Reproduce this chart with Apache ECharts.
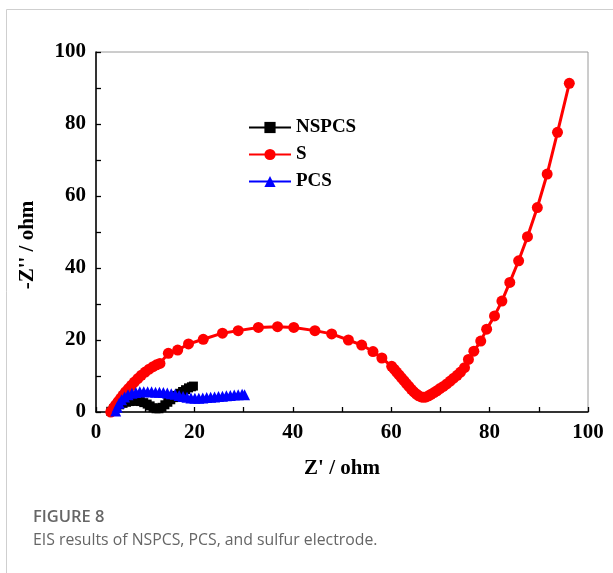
<!DOCTYPE html>
<html>
<head>
<meta charset="utf-8">
<script src="https://cdn.jsdelivr.net/npm/echarts@6/dist/echarts.min.js"></script>
<style>
html,body{margin:0;padding:0;background:#fff;}
#c{width:613px;height:573px;}
</style>
</head>
<body>
<div id="c"></div>
<script>
// ---- data (Z' , -Z'') in ohm ----
const nspcsX = [3.0,3.6,4.2,4.8,5.5,6.2,6.9,7.6,8.3,9.0,9.7,10.4,11.0,11.6,12.2,12.8,13.4,14.0,14.6,15.2,15.8,16.4,17.0,17.6,18.2,18.8,19.4,19.8];
const nspcsY = [0.2,0.9,1.5,2.0,2.4,2.7,2.9,3.0,3.0,2.9,2.6,2.2,1.7,1.2,0.9,0.9,1.3,2.0,2.7,3.4,4.0,4.6,5.2,5.7,6.2,6.7,7.0,7.2];

const sX = [3.0,3.2,3.6,4.0,4.5,5.0,5.5,6.0,6.6,7.2,7.8,8.5,9.2,10.0,10.8,11.6,12.3,13.0,14.7,16.6,18.8,21.8,25.7,28.9,33.0,36.9,40.2,44.5,47.9,51.3,54.0,56.3,58.1,60.1,60.6,61.1,61.6,62.1,62.6,63.1,63.6,64.1,64.6,65.1,65.6,66.1,66.6,67.1,67.6,68.1,68.7,69.3,69.9,70.6,71.3,72.0,72.7,73.4,74.1,74.9,75.7,76.8,78.2,79.4,81.0,82.5,84.1,85.9,87.7,89.7,91.7,93.8,96.2];
const sY = [0.0,0.3,1.2,2.0,2.9,3.8,4.7,5.6,6.5,7.4,8.3,9.3,10.2,11.1,11.9,12.6,13.1,13.5,16.3,17.2,18.9,20.2,21.9,22.6,23.5,23.7,23.5,22.6,21.7,20.0,18.6,16.8,15.0,12.7,11.9,11.1,10.3,9.5,8.7,7.9,7.1,6.3,5.6,5.0,4.5,4.2,4.1,4.2,4.5,4.9,5.4,5.9,6.5,7.1,7.8,8.6,9.4,10.2,11.1,12.3,14.6,16.9,19.7,23.0,26.7,30.8,36.0,42.0,48.7,56.8,66.1,77.7,91.3];

const pcsX = [4.0,4.3,4.7,5.2,5.8,6.5,7.3,8.1,8.9,9.7,10.5,11.3,12.1,12.9,13.7,14.5,15.3,16.1,16.9,17.7,18.5,19.3,20.1,20.9,21.7,22.5,23.3,24.1,24.9,25.7,26.5,27.3,28.1,28.9,29.7,30.2];
const pcsY = [0.3,1.3,2.4,3.4,4.2,4.8,5.2,5.4,5.6,5.6,5.6,5.6,5.5,5.5,5.4,5.3,5.1,4.9,4.6,4.3,4.1,3.9,3.8,3.8,3.9,4.0,4.1,4.2,4.3,4.4,4.5,4.6,4.7,4.8,4.9,4.8];

const seriesNames = ['NSPCS','S','PCS'];
const xTicks = {min:0, max:100, interval:20};
const yTicks = {min:0, max:100, interval:20};
const captionTitle = 'FIGURE 8';
const captionText = 'EIS results of NSPCS, PCS, and sulfur electrode.';

function pairs(xs, ys){ return xs.map((x,i)=>[x, ys[i]]); }

const serif = '"Liberation Serif","Times New Roman",serif';
const chart = echarts.init(document.getElementById('c'), null, {renderer:'canvas'});
chart.setOption({
  animation:false,
  backgroundColor:'#fff',
  grid:{left:96, top:52, width:492, height:360, show:true, borderColor:'#9a9a9a', borderWidth:1, backgroundColor:'transparent'},
  xAxis:{
    type:'value', min:xTicks.min, max:xTicks.max, interval:xTicks.interval,
    name:"Z' / ohm", nameLocation:'middle', nameGap:46,
    nameTextStyle:{fontFamily:serif, fontWeight:'bold', fontSize:21, color:'#000'},
    axisLine:{show:true, lineStyle:{color:'#000', width:1.5}},
    axisTick:{show:true, inside:true, length:5, lineStyle:{color:'#000', width:1.3}},
    minorTick:{show:true, splitNumber:2, length:5, lineStyle:{color:'#000', width:1.3}},
    axisLabel:{fontFamily:serif, fontWeight:'bold', fontSize:21, color:'#000', margin:10},
    splitLine:{show:false}
  },
  yAxis:{
    type:'value', min:yTicks.min, max:yTicks.max, interval:yTicks.interval,
    name:"-Z'' / ohm", nameLocation:'middle', nameGap:58,
    nameTextStyle:{fontFamily:serif, fontWeight:'bold', fontSize:21, color:'#000', padding:[0,0,0,-26]},
    axisLine:{show:true, lineStyle:{color:'#000', width:1.5}},
    axisTick:{show:true, inside:true, length:5, lineStyle:{color:'#000', width:1.3}},
    minorTick:{show:true, splitNumber:2, length:5, lineStyle:{color:'#000', width:1.3}},
    axisLabel:{fontFamily:serif, fontWeight:'bold', fontSize:21, color:'#000', margin:10},
    splitLine:{show:false}
  },
  legend:{
    orient:'vertical', left:243, top:113, itemWidth:42, itemHeight:14, itemGap:8,
    textStyle:{fontFamily:serif, fontWeight:'bold', fontSize:19, color:'#000'},
    data:seriesNames
  },
  series:[
    {name:seriesNames[0], type:'line', data:pairs(nspcsX,nspcsY), symbol:'rect', symbolSize:9,
     itemStyle:{color:'#000'}, lineStyle:{color:'#000', width:2.5}},
    {name:seriesNames[1], type:'line', data:pairs(sX,sY), symbol:'circle', symbolSize:11,
     itemStyle:{color:'#ff0000'}, lineStyle:{color:'#ff0000', width:3}},
    {name:seriesNames[2], type:'line', data:pairs(pcsX,pcsY), symbol:'triangle', symbolSize:11,
     itemStyle:{color:'#0000ff'}, lineStyle:{color:'#0000ff', width:2.5}}
  ],
  graphic:[
    {type:'polyline', shape:{points:[[6.5,573],[6.5,9.5],[613,9.5]]}, style:{stroke:'#cfcfcf', lineWidth:1, fill:null}, silent:true},
    {type:'text', left:33, top:509, style:{text:captionTitle, font:'600 16.5px "Open Sans", sans-serif', fill:'#666'}},
    {type:'text', left:33, top:532, style:{text:captionText, font:'15.8px "Open Sans", sans-serif', fill:'#666'}}
  ]
});
</script>
</body>
</html>
